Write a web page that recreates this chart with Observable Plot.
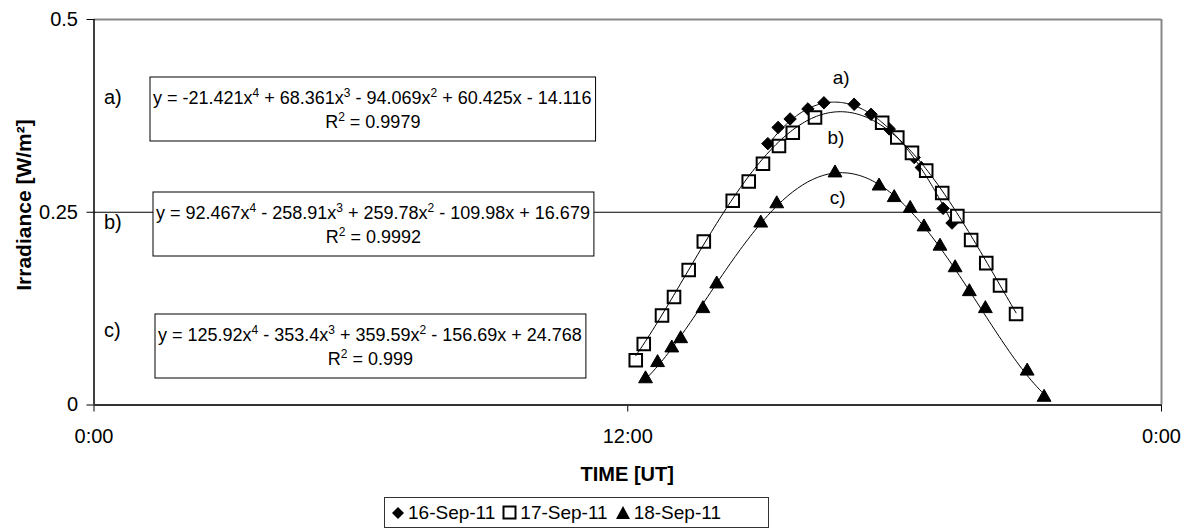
<!DOCTYPE html>
<html><head><meta charset="utf-8">
<script src="https://cdn.jsdelivr.net/npm/d3@7"></script>
<script src="https://cdn.jsdelivr.net/npm/@observablehq/plot@0.6"></script>
<style>
body{margin:0;background:#fff;font-family:"Liberation Sans",Arial,sans-serif;}
#wrap{position:relative;width:1186px;height:529px;overflow:hidden;}
#legend{position:absolute;left:384px;top:497px;width:385px;height:31px;border:1px solid #333;box-sizing:border-box;display:flex;align-items:center;font-size:19px;color:#000;white-space:nowrap;padding-left:6px;}
#legend .it{display:flex;align-items:center;margin-right:7px;}
#legend svg{margin-right:3px;}
</style></head><body><div id="wrap"></div>
<script>
// ---- data ----
const seriesNames = ["16-Sep-11", "17-Sep-11", "18-Sep-11"];

// 16-Sep-11 (diamonds): time in hours UT, irradiance W/m2
const sep16Hours = [15.15, 15.38, 15.65, 16.05, 16.41, 17.09, 17.47, 17.88, 18.44, 18.60, 19.09, 19.29];
const sep16Irr   = [0.339, 0.360, 0.371, 0.384, 0.392, 0.390, 0.377, 0.358, 0.321, 0.308, 0.255, 0.236];

// 17-Sep-11 (open squares)
const sep17Hours = [12.18, 12.36, 12.77, 13.04, 13.37, 13.71, 14.36, 14.72, 15.04, 15.40, 15.71, 16.21, 17.72, 18.06, 18.39, 18.71, 19.07, 19.41, 19.72, 20.06, 20.37, 20.73];
const sep17Irr   = [0.058, 0.079, 0.116, 0.140, 0.175, 0.212, 0.265, 0.290, 0.313, 0.336, 0.353, 0.373, 0.366, 0.347, 0.327, 0.304, 0.275, 0.245, 0.214, 0.184, 0.155, 0.118];

// 18-Sep-11 (filled triangles)
const sep18Hours = [12.40, 12.67, 12.99, 13.19, 13.69, 14.00, 14.99, 15.35, 16.66, 17.65, 17.99, 18.35, 18.66, 19.02, 19.36, 19.68, 20.04, 20.98, 21.36];
const sep18Irr   = [0.034, 0.055, 0.074, 0.086, 0.125, 0.157, 0.236, 0.261, 0.301, 0.284, 0.269, 0.255, 0.231, 0.206, 0.178, 0.147, 0.125, 0.044, 0.010];

// polynomial trendlines as printed on the chart (x = fraction of a day), coefficients x^4..x^0
const trendA = [-21.421, 68.361, -94.069, 60.425, -14.116];
const trendB = [92.467, -258.91, 259.78, -109.98, 16.679];
const trendC = [125.92, -353.4, 359.59, -156.69, 24.768];
const fitNames = ["a)", "b)", "c)"];
const eqTexts = [
  "y = -21.421x^4 + 68.361x^3 - 94.069x^2 + 60.425x - 14.116",
  "y = 92.467x^4 - 258.91x^3 + 259.78x^2 - 109.98x + 16.679",
  "y = 125.92x^4 - 353.4x^3 + 359.59x^2 - 156.69x + 24.768"
];
const r2Values = ["0.9979", "0.9992", "0.999"];

const xTicks = [0, 12, 24];
const xTickLabels = ["0:00", "12:00", "0:00"];
const yTicks = [0, 0.25, 0.5];
const yTickLabels = ["0", "0.25", "0.5"];
const yTitle = "Irradiance [W/m²]";
const xTitle = "TIME [UT]";

// ---- build tables ----
const pts = (hours, vals, s) => hours.map((h, i) => ({h, v: vals[i], s}));
const d16 = pts(sep16Hours, sep16Irr, seriesNames[0]);
const d17 = pts(sep17Hours, sep17Irr, seriesNames[1]);
const d18 = pts(sep18Hours, sep18Irr, seriesNames[2]);
function trend(coef, hours, name) {
  const lo = d3.min(hours), hi = d3.max(hours), n = 160, out = [];
  for (let k = 0; k <= n; k++) {
    const h = lo + (hi - lo) * k / n, x = h / 24;
    const v = coef.reduce((acc, c) => acc * x + c, 0);
    out.push({h, v, name});
  }
  return out;
}
const tA = trend(trendA, sep16Hours, "a");
const tB = trend(trendB, sep17Hours, "b");
const tC = trend(trendC, sep18Hours, "c");

// annotation placement (data units)
const curveLabelPos = [{h: 16.8, v: 0.424}, {h: 16.68, v: 0.346}, {h: 16.72, v: 0.268}];

const W = 1186, H = 490, ML = 93.5, MR = 25, MT = 19, BOT = 404.5;
const FONT = '"Liberation Sans", Arial, sans-serif';

const plot = Plot.plot({
  width: W, height: H,
  marginLeft: ML, marginRight: MR, marginTop: MT, marginBottom: H - BOT,
  style: {fontFamily: FONT, fontSize: "20px", color: "#000", background: "#fff", overflow: "visible"},
  x: {domain: [0, 24]},
  y: {domain: [0, 0.5]},
  marks: [
    Plot.ruleY([0.25], {stroke: "#000", strokeWidth: 1}),
    Plot.ruleY([0.5], {stroke: "#888", strokeWidth: 2}),
    Plot.ruleX([24], {stroke: "#888", strokeWidth: 2}),
    Plot.axisX({ticks: xTicks, tickFormat: d => xTickLabels[xTicks.indexOf(d)], tickSize: 7, tickPadding: 17, label: null, fontSize: 20, stroke: "#000"}),
    Plot.axisY({ticks: yTicks, tickFormat: d => yTickLabels[yTicks.indexOf(d)], tickSize: 7, tickPadding: 9, label: null, fontSize: 20, stroke: "#000"}),
    Plot.ruleX([0], {stroke: "#000", strokeWidth: 1.5}),
    Plot.ruleY([0], {stroke: "#333", strokeWidth: 2}),
    Plot.dot(d16, {x: "h", y: "v", symbol: "diamond2", r: 5.6, fill: "#000", stroke: "#000", strokeWidth: 1}),
    Plot.dot(d17, {x: "h", y: "v", symbol: "square2", r: 8, fill: "#fff", stroke: "#000", strokeWidth: 2}),
    Plot.dot(d18, {x: "h", y: "v", symbol: "triangle2", r: 6.6, fill: "#000", stroke: "#000", strokeWidth: 1}),
    Plot.line(tA, {x: "h", y: "v", stroke: "#000", strokeWidth: 1}),
    Plot.line(tB, {x: "h", y: "v", stroke: "#000", strokeWidth: 1}),
    Plot.line(tC, {x: "h", y: "v", stroke: "#000", strokeWidth: 1}),
    Plot.text(curveLabelPos, {x: "h", y: "v", text: (d, i) => fitNames[i], fontSize: 19, fill: "#000"})
  ]
});
document.getElementById("wrap").appendChild(plot);

const svg = d3.select(plot);
// axis titles
svg.append("text").attr("transform", "translate(24,205) rotate(-90)").attr("text-anchor", "middle").attr("dy", "0.35em")
  .attr("font-family", FONT).attr("font-weight", "bold").attr("font-size", 21).attr("fill", "#000").text(yTitle);
svg.append("text").attr("x", (ML + W - MR) / 2).attr("y", 474).attr("text-anchor", "middle").attr("dy", "0.35em")
  .attr("font-family", FONT).attr("font-weight", "bold").attr("font-size", 20).attr("fill", "#000").text(xTitle);

// equation boxes (trendline labels)
const boxes = [{left: 150, top: 77, lab: 97}, {left: 153, top: 192, lab: 222}, {left: 155, top: 314, lab: 330}];
const BOXH = 64, FS = 18;
boxes.forEach((b, i) => {
  const g = svg.append("g").attr("font-family", FONT).attr("fill", "#000").attr("text-anchor", "start");
  g.append("text").attr("x", 104).attr("y", b.lab).attr("dy", "0.35em").attr("font-size", 20).text(fitNames[i]);
  const rect = g.append("rect").attr("x", b.left).attr("y", b.top).attr("height", BOXH).attr("fill", "#fff").attr("stroke", "#000").attr("stroke-width", 1);
  const l1 = b.top + 21;
  const t1 = g.append("text").attr("x", b.left + 3).attr("y", l1).attr("font-size", FS).attr("text-anchor", "start");
  eqTexts[i].split(/\^(\d)/).forEach((part, k) => {
    if (k % 2 === 1) t1.append("tspan").attr("dy", -7).attr("font-size", 12).text(part);
    else t1.append("tspan").attr("dy", k === 0 ? "0.35em" : 7).text(part);
  });
  const w = t1.node().getComputedTextLength() + 7;
  rect.attr("width", w);
  const t2 = g.append("text").attr("x", b.left + w / 2).attr("y", l1 + 24).attr("font-size", FS).attr("text-anchor", "middle");
  t2.append("tspan").attr("dy", "0.35em").text("R");
  t2.append("tspan").attr("dy", -7).attr("font-size", 12).text("2");
  t2.append("tspan").attr("dy", 7).text(" = " + r2Values[i]);
});

// legend (HTML, below the svg)
const legend = d3.select("#wrap").append("div").attr("id", "legend");
const sym = [
  '<svg width="14" height="14"><path d="M7,1L13,7L7,13L1,7Z" fill="#000"/></svg>',
  '<svg width="15" height="15"><rect x="1.5" y="1.5" width="12" height="12" fill="#fff" stroke="#000" stroke-width="2"/></svg>',
  '<svg width="16" height="15"><path d="M8,1L15,14L1,14Z" fill="#000"/></svg>'
];
seriesNames.forEach((n, i) => {
  const it = legend.append("div").attr("class", "it");
  it.html(sym[i]);
  it.append("span").text(n);
});
</script></body></html>
